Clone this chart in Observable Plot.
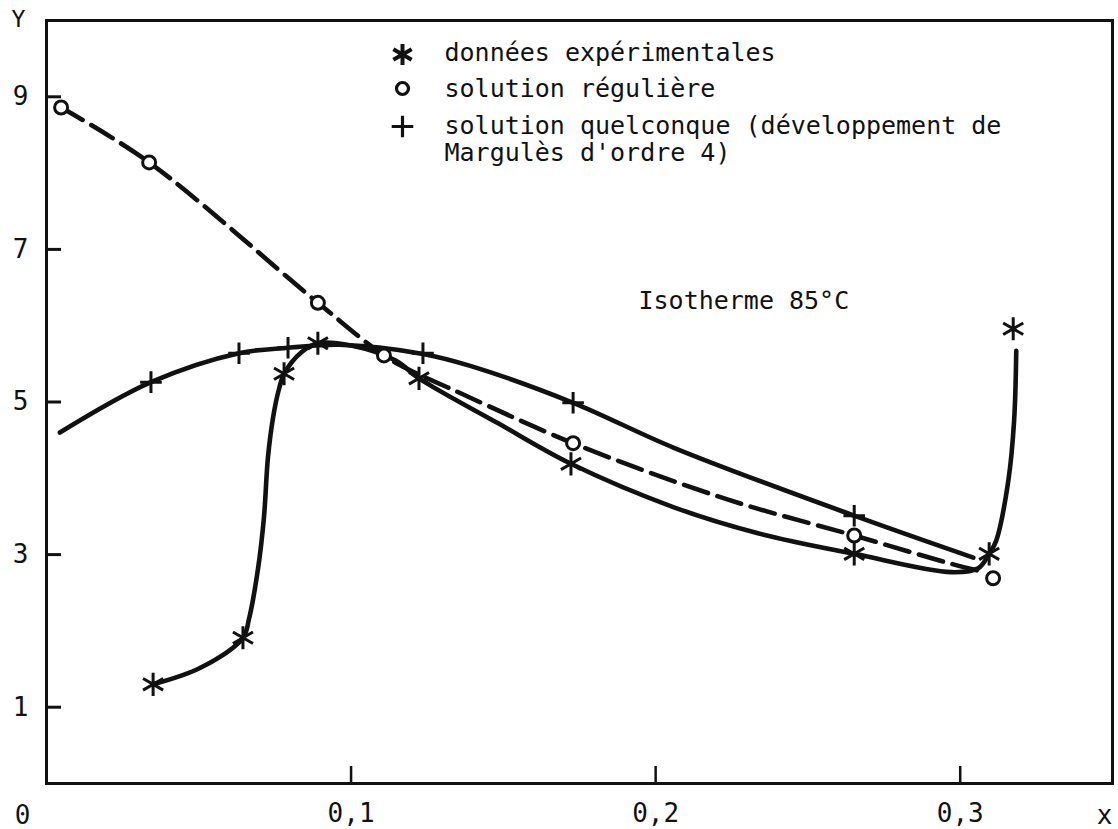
<!DOCTYPE html>
<html><head><meta charset="utf-8">
<script src="https://cdn.jsdelivr.net/npm/d3@7"></script>
<script src="https://cdn.jsdelivr.net/npm/@observablehq/plot@0.6"></script>
<style>
body{margin:0;background:#fff}
g[aria-label="legend-text"] text{letter-spacing:0.8px}
g[aria-label="annotation"] text{letter-spacing:0.5px}
</style>
</head><body><div id="chart"></div>
<script>
// Experimental data (asterisks)
const expPointsX = [0.0350, 0.0645, 0.0780, 0.0891, 0.1223, 0.1722, 0.2652, 0.3095, 0.3174];
const expPointsY = [1.30, 1.91, 5.37, 5.77, 5.31, 4.19, 3.01, 3.01, 5.96];
const expCurveX = [0.0350, 0.0507, 0.0645, 0.0665, 0.0695, 0.0714, 0.0727, 0.0744, 0.0764, 0.0780, 0.0836, 0.0891, 0.1000, 0.1148, 0.1223, 0.1483, 0.1722, 0.2060, 0.2336, 0.2652, 0.2970, 0.3059, 0.3095, 0.3118, 0.3158, 0.3177, 0.3184];
const expCurveY = [1.30, 1.52, 1.91, 2.16, 2.83, 3.49, 4.27, 4.80, 5.18, 5.37, 5.65, 5.77, 5.74, 5.54, 5.31, 4.72, 4.19, 3.62, 3.28, 3.01, 2.77, 2.82, 3.01, 3.18, 3.97, 4.76, 5.67];

// Regular solution (circles)
const regPointsX = [0.0048, 0.0337, 0.0891, 0.1108, 0.1729, 0.2652, 0.3108];
const regPointsY = [8.86, 8.14, 6.30, 5.61, 4.46, 3.25, 2.69];
const regCurveX = [0.0048, 0.0337, 0.0891, 0.1108, 0.1197, 0.1318, 0.1729, 0.2238, 0.2652, 0.2970, 0.3059];
const regCurveY = [8.86, 8.14, 6.30, 5.61, 5.41, 5.19, 4.46, 3.72, 3.25, 2.88, 2.79];

// Any solution, Margules order 4 (plus)
const quelPointsX = [0.0343, 0.0632, 0.0793, 0.1236, 0.1729, 0.2652];
const quelPointsY = [5.26, 5.64, 5.71, 5.64, 4.99, 3.51];
const quelCurveX = [0.0044, 0.0343, 0.0632, 0.0793, 0.0960, 0.1236, 0.1394, 0.1729, 0.2060, 0.2652, 0.3043];
const quelCurveY = [4.60, 5.26, 5.64, 5.71, 5.75, 5.63, 5.47, 4.99, 4.40, 3.51, 2.96];

const xTicks = [0.1, 0.2, 0.3];
const xTickLabels = ["0,1", "0,2", "0,3"];
const yTicks = [1, 3, 5, 7, 9];
const yTickLabels = ["1", "3", "5", "7", "9"];

const legendLabels = ["données expérimentales", "solution régulière", "solution quelconque (développement de", "Margulès d'ordre 4)"];
const annotation = "Isotherme 85°C";

const pts = (xs, ys) => xs.map((x, i) => ({x, y: ys[i]}));
const ink = "#111";
const legText = (t, dy) => Plot.text([t], {frameAnchor: "top-left", dx: 398, dy, textAnchor: "start", lineAnchor: "middle", fontSize: 25, fill: ink, ariaLabel: "legend-text"});

const chart = Plot.plot({
  width: 1118, height: 829,
  marginLeft: 46, marginRight: 6, marginTop: 20, marginBottom: 46,
  x: {domain: [0, 0.35]},
  y: {domain: [0, 10]},
  style: {fontFamily: "'DejaVu Sans Mono', monospace", background: "white", color: ink},
  marks: [
    Plot.frame({stroke: ink, strokeWidth: 3}),
    Plot.axisY(yTicks, {tickSize: -15, strokeWidth: 3, stroke: ink, text: null, label: null}),
    Plot.axisY(yTicks, {tickSize: 0, tickPadding: 18, fontSize: 26, tickFormat: (d, i) => yTickLabels[i], label: null}),
    Plot.axisX(xTicks, {tickSize: -17, strokeWidth: 2.5, stroke: ink, text: null, label: null}),
    Plot.axisX(xTicks, {tickSize: 0, tickPadding: 20, fontSize: 26, tickFormat: (d, i) => xTickLabels[i], label: null}),
    Plot.text(["0"], {x: [0], y: [0], dx: -24, dy: 32, fontSize: 26, fill: ink}),
    Plot.text(["Y"], {frameAnchor: "top-left", dx: -28, dy: -1, textAnchor: "middle", lineAnchor: "middle", fontSize: 23, fill: ink}),
    Plot.text(["x"], {frameAnchor: "bottom-right", dx: -8, dy: 32, textAnchor: "middle", lineAnchor: "middle", fontSize: 26, fill: ink}),

    Plot.line(pts(regCurveX, regCurveY), {x: "x", y: "y", stroke: ink, strokeWidth: 4.6, strokeDasharray: "25,10", curve: "catmull-rom"}),
    Plot.line(pts(quelCurveX, quelCurveY), {x: "x", y: "y", stroke: ink, strokeWidth: 4.6, curve: "catmull-rom"}),
    Plot.line(pts(expCurveX, expCurveY), {x: "x", y: "y", stroke: ink, strokeWidth: 4.6, curve: "catmull-rom"}),

    Plot.dot(pts(regPointsX, regPointsY), {x: "x", y: "y", symbol: "circle", r: 6.5, stroke: ink, strokeWidth: 3, fill: "white"}),
    Plot.dot(pts(quelPointsX, quelPointsY), {x: "x", y: "y", symbol: "plus", r: 7, stroke: ink, strokeWidth: 3}),
    Plot.dot(pts(expPointsX, expPointsY), {x: "x", y: "y", symbol: "asterisk", r: 11, stroke: ink, strokeWidth: 3}),

    // legend
    Plot.dot([0], {frameAnchor: "top-left", dx: 356, dy: 34, symbol: "asterisk", r: 10, stroke: ink, strokeWidth: 4}),
    Plot.dot([0], {frameAnchor: "top-left", dx: 356, dy: 68, symbol: "circle", r: 6, stroke: ink, strokeWidth: 3.2}),
    Plot.dot([0], {frameAnchor: "top-left", dx: 356, dy: 106, symbol: "plus", r: 7, stroke: ink, strokeWidth: 3.2}),
    legText(legendLabels[0], 32),
    legText(legendLabels[1], 68),
    legText(legendLabels[2], 105),
    legText(legendLabels[3], 132),
    Plot.text([annotation], {frameAnchor: "top-left", dx: 592, dy: 280, textAnchor: "start", lineAnchor: "middle", fontSize: 25, fill: ink, ariaLabel: "annotation"})
  ]
});
document.getElementById("chart").appendChild(chart);
</script>
</body></html>
